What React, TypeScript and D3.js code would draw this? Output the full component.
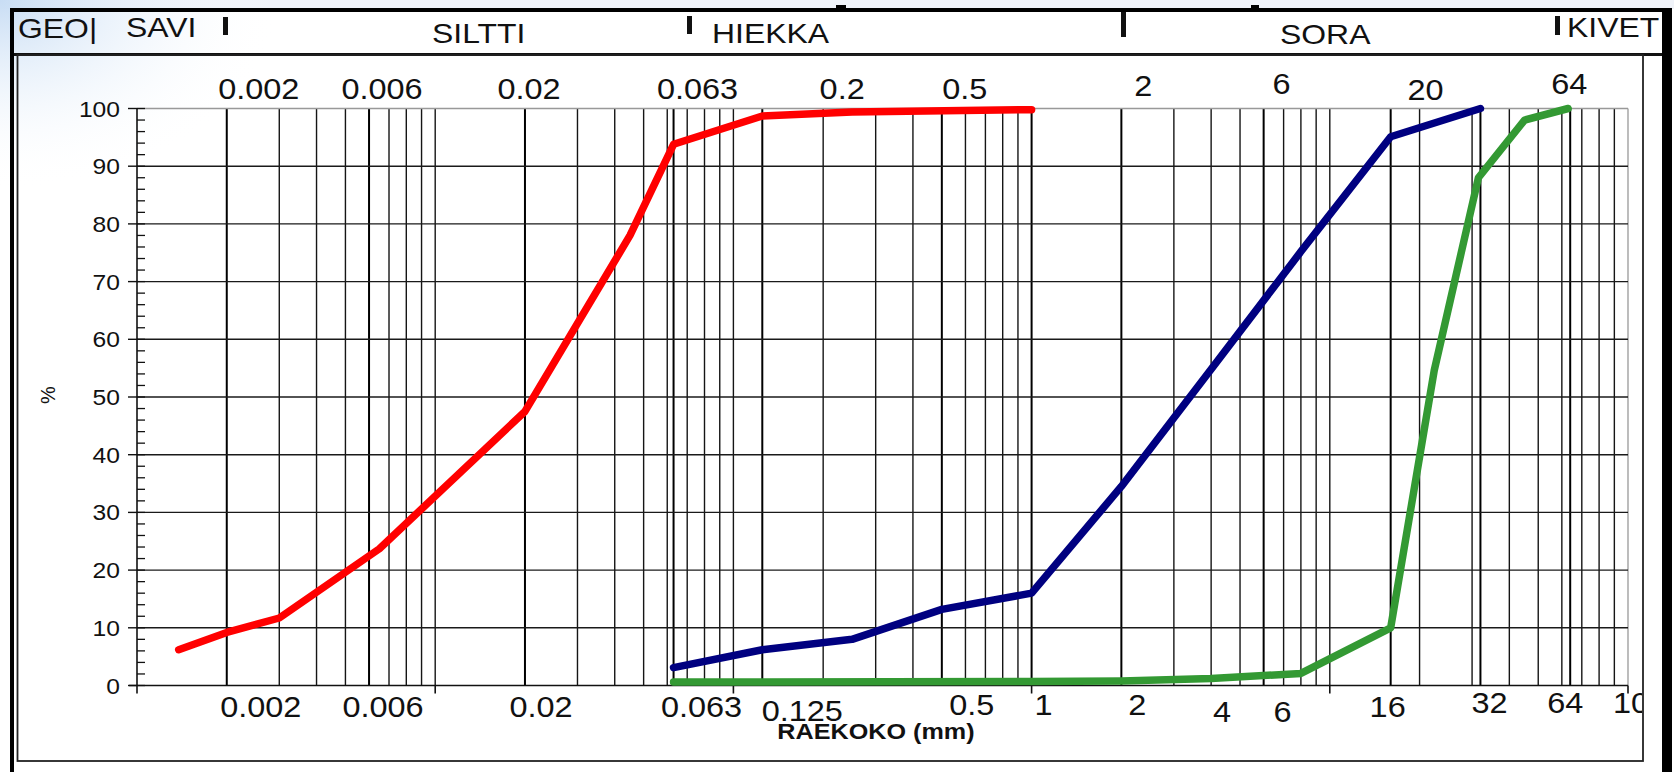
import React, { useEffect, useRef } from "react";
import * as d3 from "d3";

// raekoko (mm) and läpäisy (%)
const redSize = [0.00138, 0.002, 0.003, 0.0065, 0.02, 0.045, 0.063, 0.125, 0.25, 1];
const redPass = [6.2, 9.2, 11.7, 23.7, 47.5, 78, 93.8, 98.7, 99.4, 99.8];

const blueSize = [0.063, 0.125, 0.25, 0.5, 1, 2, 4, 8, 16, 32];
const bluePass = [3.1, 6.2, 8.0, 13.2, 16.0, 34.5, 54.8, 75.2, 95.1, 100];

const greenSize = [0.063, 1, 2, 4, 8, 16, 22.4, 31.5, 45, 63];
const greenPass = [0.6, 0.7, 0.8, 1.2, 2.1, 10, 54.6, 88, 98, 100];

const yTicks = [0, 10, 20, 30, 40, 50, 60, 70, 80, 90, 100];
const topLabels = ["0.002", "0.006", "0.02", "0.063", "0.2", "0.5", "2", "6", "20", "64"];
const bottomLabels = ["0.002", "0.006", "0.02", "0.063", "0.125", "0.5", "1", "2", "4", "6", "16", "32", "64", "100"];
const headerLabels = ["GEO|", "SAVI", "SILTTI", "HIEKKA", "SORA", "KIVET"];
const extraLines = [0.063, 0.125, 16, 32, 64];
const heavyLines = [0.002, 0.006, 0.02, 0.063, 0.125, 0.5, 1, 2, 6, 16, 32, 64];

const W = 1674;
const H = 772;
const FONT = "'Liberation Sans', Arial, sans-serif";
const SX = 1.12; // the original text is a bit wide

// where the hand placed labels sit relative to their grid line
const topNudge = [32, 13, 4, 24, 19, 23, 22, 18, 6, -1];
const topBase = [99, 99, 99, 99, 99, 99, 96, 94, 100, 94];
const bottomNudge = [34, 14, 16, 28, 40, 30, 12, 16, 11, 19, -3, 9, -5, 12];
const bottomBase = [717, 717, 717, 717, 721, 715, 715, 715, 722, 722, 717, 713, 713, 713];
const headerX = [18, 126, 432, 712, 1280, 1567];
const headerBase = [38, 37, 43, 43, 44, 37];
const headerBars = [[223, 17, 35], [687, 16, 34], [1121, 12, 37], [1555, 16, 35]];

export default function App() {
  const ref = useRef<SVGSVGElement>(null);

  useEffect(() => {
    const svg = d3.select(ref.current);
    svg.selectAll("*").remove();

    const x = d3.scaleLog().domain([0.001, 100]).range([137, 1628]);
    const y = d3.scaleLinear().domain([0, 100]).range([685.5, 108.5]);

    const put = (str, px, py, size, anchor, weight = "normal") =>
      svg.append("text")
        .attr("transform", `translate(${px},${py}) scale(${SX},1)`)
        .attr("text-anchor", anchor)
        .attr("font-family", FONT)
        .attr("font-size", size)
        .attr("font-weight", weight)
        .attr("fill", "#111")
        .text(str);

    // background
    const defs = svg.append("defs");
    const grad = defs.append("radialGradient")
      .attr("id", "corner").attr("cx", 0).attr("cy", 0).attr("r", 1)
      .attr("gradientUnits", "objectBoundingBox");
    grad.append("stop").attr("offset", "0%").attr("stop-color", "#c8ddf4");
    grad.append("stop").attr("offset", "100%").attr("stop-color", "#ffffff").attr("stop-opacity", 0);
    defs.append("clipPath").attr("id", "frameClip")
      .append("rect").attr("x", 0).attr("y", 0).attr("width", 1642).attr("height", H);

    svg.append("rect").attr("width", W).attr("height", H).attr("fill", "#fff");
    svg.append("rect").attr("width", W).attr("height", 9).attr("fill", "#f0f3f9");
    svg.append("rect").attr("width", 280).attr("height", 190).attr("fill", "url(#corner)");

    // vertical grid
    const isHeavy = (d) => heavyLines.some((h) => Math.abs(h - d) / h < 0.01);
    const vLines = x.ticks().filter((d) => d > 0.0011 && d < 99).concat(extraLines);
    svg.append("g").selectAll("line")
      .data(vLines)
      .join("line")
      .attr("x1", (d) => x(d)).attr("x2", (d) => x(d))
      .attr("y1", y(100)).attr("y2", y(0))
      .attr("stroke", (d) => (isHeavy(d) ? "#000" : "#151515"))
      .attr("stroke-width", (d) => (isHeavy(d) ? 2 : 1.4));

    svg.append("line")
      .attr("x1", x(100)).attr("x2", x(100)).attr("y1", y(100)).attr("y2", y(0))
      .attr("stroke", "#999").attr("stroke-width", 1.3);

    // horizontal grid
    svg.append("g").selectAll("line")
      .data(yTicks.slice(1))
      .join("line")
      .attr("x1", x(0.001)).attr("x2", x(100))
      .attr("y1", (d) => y(d)).attr("y2", (d) => y(d))
      .attr("stroke", (d) => (d === 100 ? "#999" : "#1a1a1a"))
      .attr("stroke-width", 1.4);

    // axes
    svg.append("line")
      .attr("x1", x(0.001) - 8).attr("x2", x(100)).attr("y1", y(0)).attr("y2", y(0))
      .attr("stroke", "#111").attr("stroke-width", 1.6);
    svg.append("line")
      .attr("x1", x(0.001)).attr("x2", x(0.001)).attr("y1", y(100)).attr("y2", y(0) + 8)
      .attr("stroke", "#111").attr("stroke-width", 1.6);
    svg.append("g").selectAll("line")
      .data([0.01, 0.1, 1, 10, 100])
      .join("line")
      .attr("x1", (d) => x(d)).attr("x2", (d) => x(d))
      .attr("y1", y(0)).attr("y2", y(0) + 8)
      .attr("stroke", "#111").attr("stroke-width", 1.6);
    svg.append("g").selectAll("line")
      .data(yTicks)
      .join("line")
      .attr("x1", x(0.001) - 9).attr("x2", x(0.001))
      .attr("y1", (d) => y(d)).attr("y2", (d) => y(d))
      .attr("stroke", "#111").attr("stroke-width", 1.4);
    svg.append("g").selectAll("line")
      .data(d3.range(0, 101, 2))
      .join("line")
      .attr("x1", x(0.001)).attr("x2", x(0.001) + 8)
      .attr("y1", (d) => y(d)).attr("y2", (d) => y(d))
      .attr("stroke", "#111").attr("stroke-width", 1.3);

    // curves
    const line = d3.line<[number, number]>()
      .x((d) => x(d[0]))
      .y((d) => y(d[1]));
    const curves = [
      { size: redSize, pass: redPass, color: "#ff0000" },
      { size: blueSize, pass: bluePass, color: "#000080" },
      { size: greenSize, pass: greenPass, color: "#339933" },
    ];
    curves.forEach((c) => {
      svg.append("path")
        .attr("d", line(c.size.map((s, i) => [s, c.pass[i]])))
        .attr("fill", "none")
        .attr("stroke", c.color)
        .attr("stroke-width", 7.5)
        .attr("stroke-linejoin", "round")
        .attr("stroke-linecap", "round");
    });

    // tick labels
    yTicks.forEach((t) => put(String(t), 120, y(t) + 8, 22, "end"));
    topLabels.forEach((t, i) => put(t, x(+t) + topNudge[i], topBase[i], 29, "middle"));
    const bottomG = svg.append("g").attr("clip-path", "url(#frameClip)");
    bottomLabels.forEach((t, i) => {
      bottomG.append("text")
        .attr("transform", `translate(${x(+t) + bottomNudge[i]},${bottomBase[i]}) scale(${SX},1)`)
        .attr("text-anchor", "middle")
        .attr("font-family", FONT)
        .attr("font-size", 29)
        .attr("fill", "#111")
        .text(t);
    });

    put("RAEKOKO (mm)", 876, 739, 22.5, "middle", "bold");
    svg.append("text")
      .attr("transform", "translate(55,395) rotate(-90)")
      .attr("text-anchor", "middle")
      .attr("font-family", FONT)
      .attr("font-size", 20)
      .attr("fill", "#111")
      .text("%");

    // header band
    headerLabels.forEach((t, i) => put(t, headerX[i], headerBase[i], 28.5, "start"));
    headerBars.forEach(([mx, a, b]) => {
      svg.append("rect").attr("x", mx).attr("y", a).attr("width", 5).attr("height", b - a).attr("fill", "#111");
    });

    // frame
    svg.append("rect").attr("x", 10).attr("y", 8).attr("width", 1655).attr("height", 4).attr("fill", "#000");
    svg.append("rect").attr("x", 836).attr("y", 5).attr("width", 10).attr("height", 4).attr("fill", "#000");
    svg.append("rect").attr("x", 1251).attr("y", 5).attr("width", 8).attr("height", 4).attr("fill", "#000");
    svg.append("rect").attr("x", 10).attr("y", 53).attr("width", 1655).attr("height", 3).attr("fill", "#111");
    svg.append("rect").attr("x", 10).attr("y", 8).attr("width", 4).attr("height", H - 8).attr("fill", "#000");
    svg.append("rect").attr("x", 1662).attr("y", 8).attr("width", 10).attr("height", H - 8).attr("fill", "#000");
    svg.append("rect")
      .attr("x", 17.5).attr("y", 55).attr("width", 1643 - 17.5).attr("height", 761 - 55)
      .attr("fill", "none").attr("stroke", "#222").attr("stroke-width", 1.8);
  }, []);

  return (
    <svg
      ref={ref}
      width={W}
      height={H}
      style={{ position: "absolute", left: 0, top: 0, display: "block" }}
    />
  );
}
